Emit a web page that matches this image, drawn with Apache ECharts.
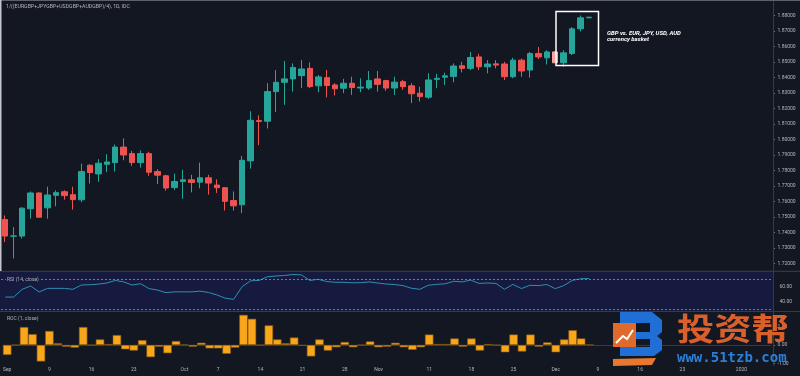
<!DOCTYPE html>
<html>
	<head>
		<meta charset="UTF-8">
		<title>GBP basket</title>
		<style>
			html,body{
				margin:0px;
				height:100%;
				background:#131722;
			}
			#chart {
				width: 800px;
				height: 376px;
			}
		</style>
	</head>
	<body>
		<div id="chart"></div>
		<script src="https://cdn.jsdelivr.net/npm/echarts/dist/echarts.min.js"></script>
		<script>
			// daily candles, Sep 2 .. Dec 6 2019 : [open, close, low, high]
			var candles = [
				[1.7484,1.7377,1.7339,1.7510],[1.7376,1.7378,1.7233,1.7435],[1.7377,1.7557,1.7361,1.7563],
				[1.7553,1.7655,1.7489,1.7665],[1.7655,1.7499,1.7495,1.7659],[1.7559,1.7642,1.7489,1.7695],
				[1.7640,1.7657,1.7569,1.7672],[1.7663,1.7638,1.7612,1.7672],[1.7644,1.7612,1.7547,1.7695],
				[1.7611,1.7793,1.7596,1.7844],[1.7834,1.7787,1.7716,1.7840],[1.7778,1.7847,1.7727,1.7873],
				[1.7840,1.7855,1.7789,1.7905],[1.7851,1.7951,1.7793,1.7968],[1.7951,1.7900,1.7866,1.8007],
				[1.7909,1.7851,1.7830,1.7926],[1.7851,1.7909,1.7819,1.7930],[1.7909,1.7789,1.7766,1.7921],
				[1.7793,1.7770,1.7712,1.7808],[1.7766,1.7687,1.7670,1.7772],[1.7690,1.7729,1.7674,1.7780],
				[1.7729,1.7740,1.7617,1.7804],[1.7740,1.7723,1.7659,1.7772],[1.7725,1.7753,1.7685,1.7851],
				[1.7753,1.7719,1.7644,1.7772],[1.7706,1.7689,1.7655,1.7743],[1.7689,1.7601,1.7542,1.7691],
				[1.7606,1.7572,1.7542,1.7665],[1.7579,1.7866,1.7525,1.7894],[1.7862,1.8124,1.7812,1.8182],
				[1.8122,1.8116,1.7964,1.8156],[1.8118,1.8309,1.8071,1.8363],[1.8309,1.8369,1.8177,1.8448],
				[1.8369,1.8391,1.8224,1.8506],[1.8391,1.8465,1.8309,1.8491],[1.8412,1.8455,1.8331,1.8512],
				[1.8459,1.8341,1.8331,1.8497],[1.8346,1.8404,1.8305,1.8416],[1.8399,1.8348,1.8271,1.8448],
				[1.8352,1.8327,1.8284,1.8363],[1.8331,1.8363,1.8299,1.8391],[1.8363,1.8335,1.8288,1.8405],
				[1.8332,1.8338,1.8305,1.8395],[1.8332,1.8380,1.8320,1.8442],[1.8391,1.8356,1.8309,1.8442],
				[1.8380,1.8332,1.8314,1.8385],[1.8332,1.8370,1.8288,1.8405],[1.8373,1.8341,1.8320,1.8385],
				[1.8346,1.8295,1.8235,1.8363],[1.8299,1.8277,1.8245,1.8341],[1.8273,1.8384,1.8262,1.8427],
				[1.8388,1.8395,1.8331,1.8423],[1.8402,1.8411,1.8352,1.8431],[1.8407,1.8474,1.8369,1.8491],
				[1.8476,1.8459,1.8433,1.8501],[1.8459,1.8529,1.8448,1.8565],[1.8533,1.8469,1.8448,1.8553],
				[1.8469,1.8487,1.8427,1.8512],[1.8488,1.8480,1.8459,1.8512],[1.8487,1.8405,1.8384,1.8501],
				[1.8405,1.8512,1.8395,1.8527],[1.8512,1.8442,1.8405,1.8522],[1.8448,1.8555,1.8399,1.8565],
				[1.8555,1.8533,1.8519,1.8597],[1.8527,1.8565,1.8484,1.8576],[1.8565,1.8495,1.8495,1.8568],
				[1.8495,1.8559,1.8469,1.8576],[1.8555,1.8714,1.8545,1.8725],[1.8714,1.8785,1.8697,1.8800],
				[1.8785,1.8789,1.8783,1.8792]
			];
			var rsiValues = [
				46.5,46.6,57,61.5,53.4,58.3,58.3,58.3,57,62.8,
				63.2,64,65.5,69,67,62.8,64.6,57.9,56,52.5,
				53.6,53.6,53.5,54.5,52.8,49.5,45,43.5,60.6,68.5,
				69,74,75,75.7,77,76.5,69,70.5,67.5,66.5,
				66.5,65.8,66,67,65.5,64.2,63.5,62,58.5,57,
				62.5,63.7,64.5,67.8,67,69.5,65,65.5,65,57,
				63.7,58,62.4,62,63.5,57.9,62,69,71.2,71.6
			];
			var rocValues = [
				-0.53,0.0,0.96,0.58,-0.88,0.75,0.09,-0.09,-0.14,0.96,
				0.0,0.3,0.05,0.53,-0.23,-0.3,0.26,-0.65,-0.09,-0.44,
				0.21,0.02,-0.09,0.12,-0.18,-0.18,-0.47,-0.14,1.61,1.4,
				0.0,1.05,0.3,0.09,0.4,-0.03,-0.61,0.3,-0.3,-0.12,
				0.16,-0.12,0.0,0.19,-0.12,-0.09,0.12,-0.12,-0.26,-0.12,
				0.56,0.05,0.05,0.35,-0.09,0.35,-0.3,0.05,0.0,-0.39,
				0.56,-0.35,0.56,-0.09,0.14,-0.39,0.3,0.79,0.35,0.02
			];
			var xTickLabels = {
				'2019-09-02':'Sep','2019-09-09':'9','2019-09-16':'16','2019-09-23':'23',
				'2019-10-01':'Oct','2019-10-07':'7','2019-10-14':'14','2019-10-21':'21','2019-10-28':'28',
				'2019-11-01':'Nov','2019-11-11':'11','2019-11-18':'18','2019-11-25':'25',
				'2019-12-02':'Dec','2019-12-09':'9','2019-12-16':'16','2019-12-23':'23','2020-01-01':'2020'
			};
			var highlightBar = 65; // the pale candle inside the box

			// weekdays only, with empty room on the right
			var dates = [];
			var d = new Date(Date.UTC(2019, 8, 2));
			while (dates.length < 91) {
				var wd = d.getUTCDay();
				if (wd != 0 && wd != 6) dates.push(d.toISOString().slice(0, 10));
				d.setUTCDate(d.getUTCDate() + 1);
			}

			var textColor = '#b2b5be';
			var lineColor = '#363a45';
			var font = 'Roboto';

			var chart = echarts.init(document.getElementById('chart'));

			function hiddenX(idx) {
				return {type: 'category', gridIndex: idx, data: dates, boundaryGap: true, show: false};
			}

			var option = {
				animation: false,
				backgroundColor: '#131722',
				grid: [
					{left: 1, right: 29, top: -2.3, height: 281.3},
					{left: 1, right: 29, top: 264.9, height: 51.8},
					{left: 1, right: 29, top: 307.6, height: 56.1}
				],
				xAxis: [
					hiddenX(0),
					hiddenX(1),
					{
						type: 'category',
						gridIndex: 2,
						data: dates,
						boundaryGap: true,
						axisLine: {lineStyle: {color: lineColor}},
						axisTick: {show: false},
						axisLabel: {
							interval: function (i, v) { return xTickLabels[v] !== undefined; },
							formatter: function (v) { return xTickLabels[v] || ''; },
							color: textColor,
							fontSize: 5,
							fontFamily: font,
							margin: 4
						}
					}
				],
				yAxis: [
					{
						type: 'value', gridIndex: 0, position: 'right', offset: 2,
						min: 1.71, max: 1.89, interval: 0.01,
						axisLine: {show: false},
						axisTick: {show: true, length: 2, lineStyle: {color: '#787b86'}},
						splitLine: {show: false},
						axisLabel: {
							showMinLabel: false, showMaxLabel: false,
							formatter: function (v) { return v.toFixed(5); },
							color: textColor, fontSize: 5, fontFamily: font, margin: 4.5
						}
					},
					{
						type: 'value', gridIndex: 1, position: 'right', offset: 2,
						min: 20, max: 90, interval: 20,
						axisLine: {show: false},
						axisTick: {show: false},
						splitLine: {show: false},
						axisLabel: {
							formatter: function (v) { return (v == 40 || v == 60) ? v.toFixed(2) : ''; },
							color: textColor, fontSize: 5, fontFamily: font, margin: 6.5
						}
					},
					{
						type: 'value', gridIndex: 2, position: 'right', offset: 2,
						min: -1, max: 2, interval: 1,
						axisLine: {show: false},
						axisTick: {show: true, length: 2, lineStyle: {color: '#787b86'}},
						splitLine: {show: false},
						axisLabel: {
							showMaxLabel: false,
							formatter: function (v) { return v.toFixed(2); },
							color: textColor, fontSize: 5, fontFamily: font, margin: 4.5
						}
					}
				],
				series: [
					{
						type: 'candlestick',
						xAxisIndex: 0,
						yAxisIndex: 0,
						barWidth: 6,
						itemStyle: {
							color: '#26a69a', color0: '#ef5350',
							borderColor: '#26a69a', borderColor0: '#ef5350', borderWidth: 1
						},
						data: candles.map(function (c, i) {
							if (i == highlightBar) {
								return {value: c, itemStyle: {color0: '#f4a4a2', borderColor0: '#f4a4a2'}};
							}
							return c;
						})
					},
					{
						type: 'line',
						xAxisIndex: 1,
						yAxisIndex: 1,
						symbol: 'none',
						lineStyle: {color: '#2f8fb5', width: 1},
						data: rsiValues,
						markLine: {
							silent: true,
							symbol: ['none', 'none'],
							label: {show: false},
							lineStyle: {type: [2, 2], color: '#8e919a', width: 0.8},
							data: [{yAxis: 70}, {yAxis: 30}]
						}
					},
					{
						type: 'bar',
						xAxisIndex: 2,
						yAxisIndex: 2,
						barCategoryGap: '0%',
						itemStyle: {color: '#f9a61b', borderColor: '#8a5a12', borderWidth: 0.6},
						data: rocValues
					}
				],
				graphic: [
					// RSI pane fill
					{type: 'rect', z: -10, shape: {x: 0, y: 271.5, width: 773, height: 39.5}, style: {fill: '#151a3e'}},
					// pane separators and price scale border
					{type: 'line', z: 50, shape: {x1: 0, y1: 271.3, x2: 800, y2: 271.3}, style: {stroke: '#3c404b', lineWidth: 1}},
					{type: 'line', z: 50, shape: {x1: 0, y1: 311.5, x2: 800, y2: 311.5}, style: {stroke: lineColor, lineWidth: 1}},
					{type: 'line', z: 50, shape: {x1: 773.5, y1: 0, x2: 773.5, y2: 366}, style: {stroke: lineColor, lineWidth: 1}},
					{type: 'line', z: 50, shape: {x1: 0, y1: 0.5, x2: 800, y2: 0.5}, style: {stroke: '#5d606b', lineWidth: 1}},
					{type: 'line', z: 50, shape: {x1: 0.75, y1: 0, x2: 0.75, y2: 271}, style: {stroke: '#c4c6cc', lineWidth: 1.5}},
					// titles
					{type: 'text', z: 60, x: 6, y: 4, style: {text: '1/((EURGBP+JPYGBP+USDGBP+AUDGBP)/4), 1D, IDC', fill: textColor, fontSize: 5.2, fontFamily: font}},
					{type: 'text', z: 60, x: 6, y: 280, style: {text: 'RSI (14, close)', fill: textColor, fontSize: 5, fontFamily: font, verticalAlign: 'middle', backgroundColor: '#151a3e', padding: [0, 1]}},
					{type: 'text', z: 60, x: 7, y: 319, style: {text: 'ROC (1, close)', fill: textColor, fontSize: 5, fontFamily: font, verticalAlign: 'middle'}},
					// annotation box
					{type: 'rect', z: 60, shape: {x: 556, y: 11.5, width: 42.5, height: 54}, style: {fill: 'none', stroke: '#ffffff', lineWidth: 1.5}},
					{type: 'text', z: 60, x: 607, y: 30.5, style: {text: 'GBP vs. EUR, JPY, USD, AUD', fill: '#ffffff', fontSize: 6, fontWeight: 'bold', fontStyle: 'italic', fontFamily: font}},
					{type: 'text', z: 60, x: 607, y: 36.5, style: {text: 'currency basket', fill: '#ffffff', fontSize: 6, fontWeight: 'bold', fontStyle: 'italic', fontFamily: font}},
					// watermark
					{type: 'polygon', z: 70, shape: {points: [[620,312],[652,312],[662,320],[662,332],[657,336],[662,340],[662,350],[654,356],[620,356],[620,347],[650,347],[650,339],[636,339],[636,332],[650,332],[650,323],[620,323]]}, style: {fill: '#1f6fd6'}},
					{type: 'rect', z: 71, shape: {x: 613, y: 323, width: 23, height: 24}, style: {fill: '#df6a2c'}},
					{type: 'polyline', z: 72, shape: {points: [[616,343],[623,336],[627,339],[633,330]]}, style: {stroke: '#ffffff', lineWidth: 2, fill: 'none'}},
					{type: 'polygon', z: 70, shape: {points: [[613,359],[656,358],[652,365],[613,366]]}, style: {fill: '#e8782f'}},
					{type: 'text', z: 70, x: 677, y: 313, scaleX: 1.2, style: {text: '投资帮', fill: '#d8602c', fontSize: 31, fontWeight: 'bold', fontFamily: 'Noto Sans CJK SC'}},
					{type: 'text', z: 70, x: 677, y: 358, style: {text: 'www.51tzb.com', fill: '#2c7fd8', fontSize: 14, fontWeight: 'bold', fontFamily: 'DejaVu Sans Mono', verticalAlign: 'middle'}}
				]
			};
			chart.setOption(option, true);
		</script>
	</body>
</html>
